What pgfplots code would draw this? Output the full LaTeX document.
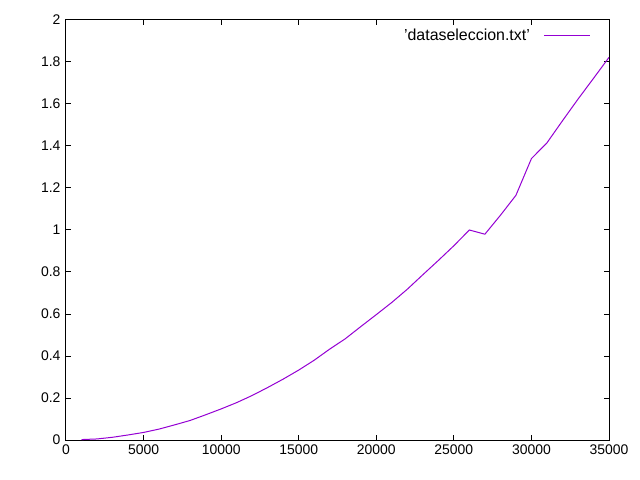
\documentclass[border=0pt]{standalone}
\usepackage{pgfplots}
\pgfplotsset{compat=1.18}
\usepackage{fontspec}
\setmainfont{Liberation Sans}
\definecolor{gpviolet}{RGB}{148,0,211}
\begin{document}
\begin{tikzpicture}
\path[use as bounding box] (-66bp,-40bp) rectangle (574bp,440bp);
\begin{axis}[
  scale only axis,
  width=543bp, height=420bp,
  xmin=0, xmax=35000, ymin=0, ymax=2,
  xtick={0,5000,...,35000},
  ytick={0,0.2,...,2.01},
  scaled x ticks=false,
  /pgf/number format/1000 sep={},
  /pgf/number format/assume math mode=true,
  tick align=inside,
  major tick length=5bp,
  minor tick num=0,
  axis line style={line width=1bp},
  every tick/.style={line width=1bp, black},
  tick label style={font=\fontsize{14}{16}\selectfont},
  yticklabel style={xshift=-2bp},
  xticklabel style={yshift=-1bp},
  legend style={draw=none, fill=none, at={(0.967,0.985)}, anchor=north east,
    font=\fontsize{16}{18}\selectfont, inner sep=0pt},
  legend plot pos=right,
  legend cell align=right,
  legend image code/.code={\path (0bp,0bp); \draw[#1] (12bp,0bp) -- (58bp,0bp);},
]
\addplot[gpviolet, line width=1bp] coordinates {
(1000,0.002) (2000,0.005) (3000,0.013) (4000,0.024) (5000,0.036)
(6000,0.052) (7000,0.072) (8000,0.093) (9000,0.120) (10000,0.148)
(11000,0.178) (12000,0.212) (13000,0.250) (14000,0.290) (15000,0.333)
(16000,0.380) (17000,0.433) (18000,0.482) (19000,0.540) (20000,0.597)
(21000,0.655) (22000,0.718) (23000,0.787) (24000,0.855) (25000,0.925)
(26000,1.000) (27000,0.980) (28000,1.070) (29000,1.165) (30000,1.340)
(31000,1.415) (32000,1.520) (33000,1.623) (34000,1.722) (35000,1.822)
};
\addlegendentry{'dataseleccion.txt'}
\end{axis}
\end{tikzpicture}
\end{document}
